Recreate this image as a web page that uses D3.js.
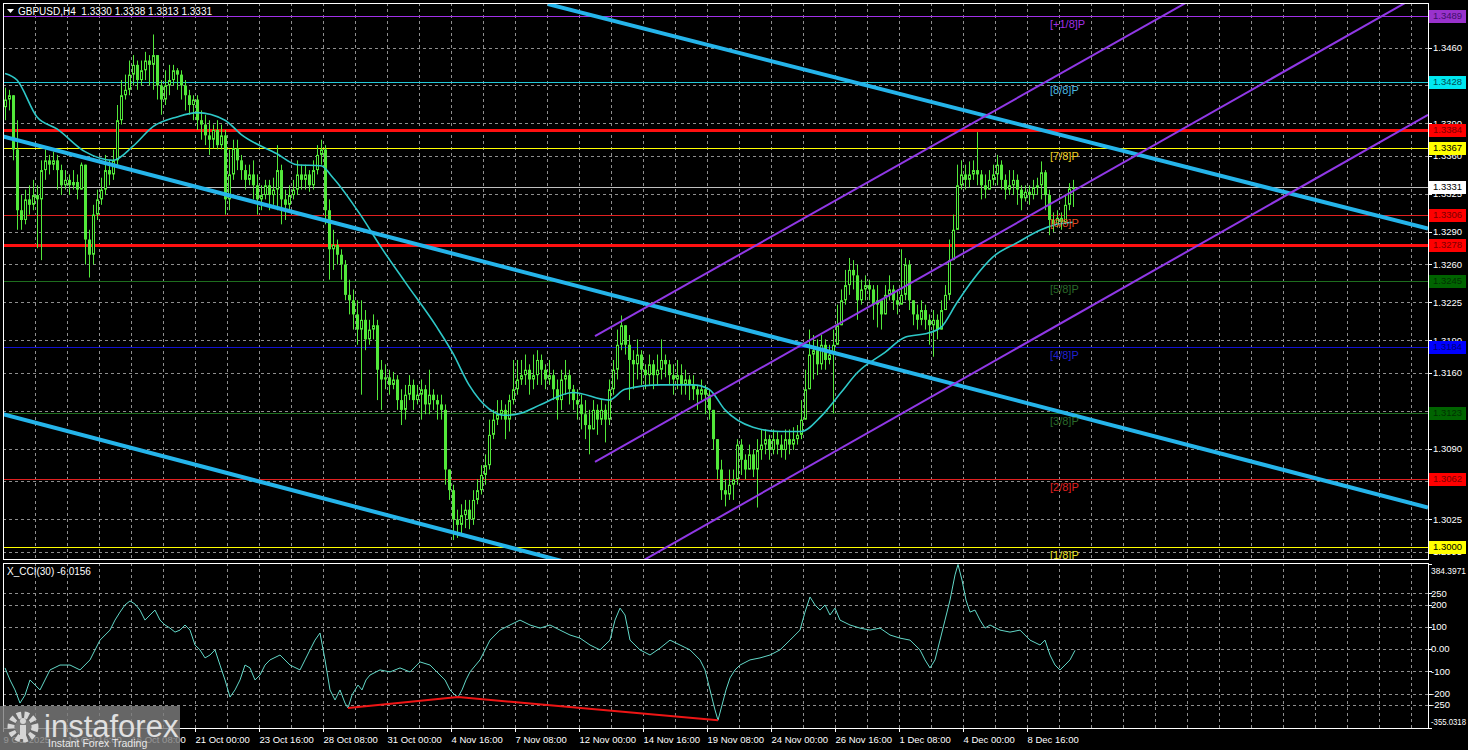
<!DOCTYPE html>
<html><head><meta charset="utf-8">
<script src="https://cdn.jsdelivr.net/npm/d3@7"></script>
<style>body{margin:0;background:#000;overflow:hidden}svg{display:block;font-family:"Liberation Sans",Arial,sans-serif}</style>
</head><body><svg id="c" width="1468" height="750"></svg>
<script>
// ---------------- DATA ----------------
const symbolTitle = "GBPUSD,H4  1.3330 1.3338 1.3313 1.3331";
const cciTitle = "X_CCI(30) -6.0156";
const firstOpen = 1.3405;
const closes = [
1.3412,1.3416,1.3366,1.3310,1.3301,1.3320,1.3315,1.3324,1.3320,1.3347,
1.3356,1.3352,1.3356,1.3347,1.3333,1.3338,1.3333,1.3336,1.3329,1.3352,
1.3283,1.3269,1.3306,1.3320,1.3329,1.3347,1.3343,1.3356,1.3393,1.3416,
1.3421,1.3435,1.3444,1.3430,1.3439,1.3448,1.3444,1.3453,1.3425,1.3412,
1.3425,1.3430,1.3439,1.3435,1.3425,1.3416,1.3407,1.3412,1.3393,1.3389,
1.3379,1.3375,1.3384,1.3370,1.3379,1.3320,1.3343,1.3367,1.3356,1.3347,
1.3338,1.3343,1.3333,1.3320,1.3324,1.3333,1.3324,1.3329,1.3347,1.3320,
1.3315,1.3324,1.3329,1.3343,1.3338,1.3343,1.3333,1.3347,1.3361,1.3366,
1.3310,1.3274,1.3278,1.3269,1.3260,1.3232,1.3227,1.3214,1.3200,1.3209,
1.3191,1.3200,1.3204,1.3163,1.3154,1.3156,1.3149,1.3154,1.3135,1.3126,
1.3140,1.3149,1.3135,1.3140,1.3145,1.3131,1.3140,1.3135,1.3131,1.3126,
1.3071,1.3052,1.3025,1.3020,1.3029,1.3034,1.3025,1.3043,1.3052,1.3066,
1.3075,1.3103,1.3117,1.3122,1.3126,1.3117,1.3135,1.3145,1.3154,1.3158,
1.3163,1.3154,1.3158,1.3172,1.3163,1.3154,1.3158,1.3145,1.3135,1.3154,
1.3158,1.3145,1.3135,1.3131,1.3122,1.3112,1.3108,1.3126,1.3117,1.3126,
1.3117,1.3145,1.3163,1.3186,1.3204,1.3186,1.3172,1.3168,1.3177,1.3163,
1.3158,1.3168,1.3158,1.3163,1.3172,1.3168,1.3158,1.3154,1.3158,1.3149,
1.3154,1.3149,1.3145,1.3140,1.3145,1.3140,1.3126,1.3099,1.3071,1.3052,
1.3048,1.3057,1.3062,1.3094,1.3080,1.3071,1.3085,1.3071,1.3089,1.3094,
1.3099,1.3089,1.3099,1.3094,1.3089,1.3099,1.3094,1.3099,1.3103,1.3117,
1.3145,1.3177,1.3181,1.3168,1.3186,1.3172,1.3177,1.3186,1.3204,1.3227,
1.3241,1.3255,1.3250,1.3227,1.3237,1.3241,1.3237,1.3223,1.3227,1.3214,
1.3232,1.3237,1.3227,1.3223,1.3232,1.3260,1.3227,1.3214,1.3209,1.3218,
1.3209,1.3204,1.3209,1.3200,1.3218,1.3232,1.3264,1.3292,1.3333,1.3343,
1.3338,1.3343,1.3347,1.3343,1.3333,1.3329,1.3338,1.3343,1.3352,1.3338,
1.3329,1.3333,1.3338,1.3329,1.3321,1.3327,1.3324,1.3331,1.3333,1.3345,
1.3324,1.3301,1.3297,1.3303,1.3299,1.3315,1.3330,1.3331];
const highs = [
1.3423,1.3421,1.3416,1.3393,1.3324,1.3329,1.3333,1.3338,1.3333,1.3356,
1.3366,1.3361,1.3364,1.3361,1.3352,1.3347,1.3343,1.3347,1.3343,1.3354,
1.3352,1.3292,1.3315,1.3329,1.3340,1.3361,1.3356,1.3366,1.3407,1.3430,
1.3435,1.3448,1.3453,1.3448,1.3448,1.3456,1.3453,1.3472,1.3453,1.3430,
1.3439,1.3444,1.3444,1.3441,1.3439,1.3430,1.3421,1.3416,1.3416,1.3402,
1.3398,1.3393,1.3389,1.3393,1.3389,1.3384,1.3366,1.3375,1.3375,1.3361,
1.3352,1.3352,1.3356,1.3343,1.3333,1.3338,1.3338,1.3340,1.3370,1.3352,
1.3329,1.3333,1.3338,1.3356,1.3352,1.3352,1.3347,1.3356,1.3370,1.3375,
1.3370,1.3320,1.3292,1.3283,1.3274,1.3264,1.3246,1.3237,1.3227,1.3227,
1.3218,1.3209,1.3214,1.3209,1.3172,1.3168,1.3163,1.3161,1.3158,1.3145,
1.3149,1.3158,1.3154,1.3149,1.3154,1.3149,1.3163,1.3145,1.3140,1.3140,
1.3131,1.3071,1.3057,1.3034,1.3039,1.3043,1.3043,1.3052,1.3062,1.3075,
1.3085,1.3117,1.3126,1.3135,1.3135,1.3131,1.3140,1.3172,1.3172,1.3172,
1.3177,1.3168,1.3177,1.3181,1.3177,1.3168,1.3172,1.3163,1.3154,1.3163,
1.3172,1.3163,1.3149,1.3145,1.3140,1.3135,1.3126,1.3135,1.3131,1.3135,
1.3131,1.3154,1.3172,1.3200,1.3213,1.3204,1.3195,1.3181,1.3191,1.3181,
1.3168,1.3177,1.3172,1.3177,1.3191,1.3177,1.3172,1.3168,1.3172,1.3168,
1.3163,1.3158,1.3158,1.3149,1.3154,1.3149,1.3145,1.3126,1.3099,1.3080,
1.3062,1.3071,1.3071,1.3099,1.3099,1.3085,1.3094,1.3089,1.3099,1.3108,
1.3108,1.3103,1.3108,1.3106,1.3103,1.3108,1.3108,1.3110,1.3112,1.3135,
1.3163,1.3200,1.3195,1.3191,1.3195,1.3191,1.3186,1.3200,1.3223,1.3237,
1.3255,1.3266,1.3264,1.3260,1.3246,1.3250,1.3246,1.3241,1.3241,1.3227,
1.3241,1.3250,1.3241,1.3237,1.3274,1.3266,1.3264,1.3227,1.3223,1.3227,
1.3223,1.3214,1.3218,1.3214,1.3227,1.3241,1.3283,1.3306,1.3352,1.3356,
1.3352,1.3355,1.3356,1.3382,1.3347,1.3343,1.3347,1.3352,1.3361,1.3356,
1.3343,1.3347,1.3347,1.3343,1.3333,1.3333,1.3333,1.3338,1.3340,1.3355,
1.3347,1.3329,1.3308,1.3310,1.3308,1.3324,1.3335,1.3338];
const lows = [
1.3393,1.3402,1.3356,1.3292,1.3292,1.3297,1.3306,1.3310,1.3275,1.3264,
1.3338,1.3343,1.3347,1.3329,1.3324,1.3329,1.3324,1.3329,1.3320,1.3329,
1.3260,1.3248,1.3260,1.3301,1.3315,1.3324,1.3333,1.3338,1.3352,1.3389,
1.3412,1.3416,1.3425,1.3421,1.3425,1.3430,1.3425,1.3421,1.3412,1.3398,
1.3407,1.3416,1.3425,1.3421,1.3412,1.3402,1.3398,1.3393,1.3384,1.3375,
1.3370,1.3361,1.3367,1.3366,1.3366,1.3306,1.3310,1.3338,1.3347,1.3338,
1.3329,1.3333,1.3320,1.3306,1.3310,1.3320,1.3310,1.3315,1.3310,1.3297,
1.3301,1.3310,1.3320,1.3324,1.3329,1.3329,1.3327,1.3329,1.3343,1.3352,
1.3297,1.3246,1.3255,1.3260,1.3246,1.3227,1.3214,1.3200,1.3186,1.3140,
1.3181,1.3186,1.3191,1.3135,1.3126,1.3145,1.3140,1.3145,1.3126,1.3112,
1.3117,1.3135,1.3126,1.3131,1.3117,1.3122,1.3122,1.3126,1.3117,1.3117,
1.3057,1.3043,1.3006,1.3008,1.3011,1.3017,1.3016,1.3020,1.3039,1.3048,
1.3057,1.3071,1.3099,1.3112,1.3117,1.3099,1.3106,1.3131,1.3140,1.3149,
1.3149,1.3140,1.3145,1.3149,1.3149,1.3145,1.3149,1.3135,1.3117,1.3126,
1.3140,1.3131,1.3126,1.3117,1.3108,1.3099,1.3085,1.3108,1.3103,1.3112,
1.3096,1.3112,1.3140,1.3154,1.3181,1.3177,1.3135,1.3145,1.3154,1.3149,
1.3145,1.3149,1.3145,1.3149,1.3154,1.3156,1.3149,1.3140,1.3145,1.3140,
1.3140,1.3135,1.3135,1.3126,1.3135,1.3122,1.3117,1.3089,1.3062,1.3043,
1.3037,1.3043,1.3043,1.3057,1.3066,1.3062,1.3071,1.3064,1.3036,1.3080,
1.3085,1.3080,1.3085,1.3085,1.3082,1.3080,1.3085,1.3089,1.3094,1.3099,
1.3126,1.3158,1.3154,1.3158,1.3163,1.3163,1.3168,1.3123,1.3186,1.3209,
1.3223,1.3232,1.3237,1.3209,1.3223,1.3227,1.3227,1.3209,1.3202,1.3200,
1.3218,1.3227,1.3218,1.3214,1.3223,1.3227,1.3218,1.3204,1.3200,1.3204,
1.3200,1.3186,1.3175,1.3191,1.3200,1.3218,1.3227,1.3274,1.3292,1.3329,
1.3329,1.3331,1.3338,1.3333,1.3320,1.3321,1.3329,1.3333,1.3333,1.3329,
1.3320,1.3324,1.3324,1.3315,1.3310,1.3318,1.3315,1.3320,1.3324,1.3320,
1.3310,1.3287,1.3290,1.3294,1.3292,1.3297,1.3310,1.3313];

// moving average, sampled (bar index, price)
const maBars = [0,3,8,13,20,27,32,37,43,48,55,59,68,73,79,82,89,94,100,108,112,116,121,125,129,134,142,151,155,164,172,176,180,187,194,199,204,209,213,220,225,231,234,238,242,247,253,259,263,267];
const maValues = [1.3436,1.3430,1.3396,1.3385,1.3364,1.3356,1.3369,1.3387,1.3396,1.3400,1.3393,1.3380,1.3362,1.3352,1.3351,1.3340,1.3305,1.3276,1.3244,1.3202,1.3178,1.3149,1.3127,1.3121,1.3123,1.3131,1.3142,1.3135,1.3145,1.3149,1.3149,1.3145,1.3126,1.3110,1.3106,1.3106,1.3120,1.3142,1.3160,1.3179,1.3193,1.3197,1.3202,1.3225,1.3246,1.3267,1.3280,1.3292,1.3297,1.3299];

// CCI(30) samples (bar index, value)
const cciBars = [0,1.25,2.5,3.75,5,6.25,8.75,11.25,13.75,16.25,18.75,21.25,23.75,26.25,27.5,28.75,30,31.25,32.5,33.75,35,36.25,37.5,38.75,40,41.25,42.5,43.75,45,46.25,47.5,48.75,50,51.25,52.5,53.75,55,56.25,57.5,58.75,60,61.25,62.5,63.75,65,66.25,68.75,71.25,73.75,75,76.25,77.5,78.75,80,81.25,82.5,83.75,85,85.75,86.75,88.25,89.25,90.25,91.25,93.75,96.25,98.75,101.25,103.75,106.25,108.75,110,111.25,112.5,113.25,114.25,115.25,116.25,118.75,121.25,123.75,126.25,128.75,131.25,133.75,136.25,138.75,141.25,143.75,146.25,148.75,151.25,152.5,153.75,155,156.25,158.75,161.25,163.75,166.25,168.75,171.25,173.75,175,176.25,177.5,178.25,179.25,180.25,181.25,182.5,183.75,186.25,188.75,191.25,193.75,196.25,198.75,200,201.25,202.5,203.75,205,206.25,207.5,208.75,211.25,213.75,216.25,218.75,221.25,223.75,226.25,228.75,230,231.25,232.5,233.75,235,236.25,237.5,238.25,239.25,240.25,241.25,242.5,243.75,245,246.25,248.75,251.25,253.75,256.25,258.75,260,261.25,262.5,263.75,265,266.25,267.5];
const cciValues = [-85,-139,-184,-243,-207,-139,-184,-94,-72,-72,-94,-49,40,85,130,166,198,216,202,175,130,153,175,130,108,94,76,85,108,85,18,-4,-40,-27,-4,-72,-139,-216,-184,-139,-72,-85,-139,-117,-72,-49,-27,-72,-94,-49,-4,40,72,-49,-184,-229,-184,-243,-265,-207,-162,-184,-139,-117,-94,-103,-85,-103,-58,-72,-117,-139,-184,-207,-216,-184,-139,-103,-49,40,85,108,130,108,94,108,85,63,49,18,-4,40,130,184,153,40,-4,-27,4,40,18,-4,-49,-94,-184,-274,-320,-252,-184,-130,-94,-72,-49,-40,-27,-4,40,85,166,234,198,175,198,153,184,130,108,94,85,94,63,49,40,-4,-49,-85,-49,40,130,220,333,380,310,220,166,175,130,94,108,85,76,85,40,18,40,-27,-72,-94,-72,-49,-6];
const divBars = [85.75,113.25,178.25];
const divValues = [-265,-216,-320];

// horizontal levels
const levelValues = [1.3489,1.3428,1.3384,1.3367,1.3331,1.3306,1.3278,1.3245,1.3184,1.3123,1.3062,1.3000];
const levelNames  = ["[+1/8]P","[8/8]P","","[7/8]P","","[6/8]P","","[5/8]P","[4/8]P","[3/8]P","[2/8]P","[1/8]P"];

// trend channels: [bar, price] endpoints
const blueChannel = [[[135.75,1.3500],[355.75,1.3293]],[[-0.5,1.3378],[355.75,1.3036]],[[-0.5,1.3122],[355.75,1.2777]]];
const purpleChannel = [[[147.5,1.3194],[355.75,1.3627]],[[147.5,1.3078],[355.75,1.3513]],[[147.5,1.2962],[355.75,1.3398]]];

// axes
const priceTicks = [1.3460,1.3425,1.3390,1.3360,1.3325,1.3290,1.3260,1.3225,1.3190,1.3160,1.3125,1.3090,1.3060,1.3025,1.2995];
const cciGridTicks = [250,200,100,0,-100,-200,-250];
const cciAxisValues = [384.3971,250,200,100,0,-100,-200,-250,-355.0318];
const cciAxisLabels = ["384.3971","250","200","100","0.00","-100","-200","-250","-355.0318"];
const timeLabelBars = [0,16,32,48,64,80,96,112,128,144,160,176,192,208,224,240,256];
const timeLabels = ["9 Oct 2025","13 Oct 16:00","16 Oct 08:00","21 Oct 00:00","23 Oct 16:00","28 Oct 08:00","31 Oct 00:00","4 Nov 16:00","7 Nov 08:00","12 Nov 00:00","14 Nov 16:00","19 Nov 08:00","24 Nov 00:00","26 Nov 16:00","1 Dec 08:00","4 Dec 00:00","8 Dec 16:00"];

// ---------------- STYLES ----------------
const levelColors = ["#a030e8","#22c8d8","#ff1010","#ffff00","#c0c0c0","#e02020","#ff1010","#1e6e1e","#1010d0","#1e6e1e","#e02020","#ffff00"];
const levelWidths = [1,1,3,1,1,1,3,1,1,1,1,1];
const nameColors  = ["#a030e8","#4ab8e0","","#f0d020","","#e04a20","","#2a6a2a","#2020d0","#2a6a2a","#e02020","#e8e020"];
const boxFill = ["#9932cc","#00e8f0","#ff0000","#ffff00","#ffffff","#ff0000","#ff0000","#006400","#0000ff","#006400","#ff0000","#ffff00"];
const boxText = ["#40106a","#004a50","#7a0000","#000000","#000000","#7a0000","#7a0000","#003000","#000070","#003000","#7a0000","#000000"];

// ---------------- DRAW ----------------
const L=3,R=1428,MT=3,MB=559,CT=563,CB=728;
const AX=9.5;
const svg=d3.select("#c");
svg.append("rect").attr("width",1468).attr("height",750).attr("fill","#000");
const x=d3.scaleLinear().domain([-0.5,355.75]).range([L,R]);
const y=d3.scaleLinear().domain([1.3460,1.2995]).range([47.5,552]);
const yc=d3.scaleLinear().domain([-355.0318,384.3971]).range([728,563.5]);

const defs=svg.append("defs");
defs.append("clipPath").attr("id","mclip").append("rect").attr("x",L).attr("y",MT).attr("width",R-L).attr("height",MB-MT);
defs.append("clipPath").attr("id","cclip").append("rect").attr("x",L).attr("y",CT).attr("width",R-L).attr("height",CB-CT);

const gridColor="#8e8e8e";
const vBars=d3.range(8,356,8);
// main panel
const gm=svg.append("g").attr("clip-path","url(#mclip)");
gm.selectAll(".vg").data(vBars).join("line").attr("x1",d=>x(d)-2+0.5).attr("x2",d=>x(d)-2+0.5).attr("y1",MT).attr("y2",MB)
  .attr("stroke",gridColor).attr("stroke-dasharray","3,3");
gm.selectAll(".hg").data(priceTicks).join("line").attr("x1",L).attr("x2",R).attr("y1",d=>Math.round(y(d))+0.5).attr("y2",d=>Math.round(y(d))+0.5)
  .attr("stroke",gridColor).attr("stroke-dasharray","3,3");

// level lines
gm.selectAll(".lv").data(levelValues).join("line").attr("x1",L).attr("x2",R)
  .attr("y1",d=>Math.round(y(d))+0.5).attr("y2",d=>Math.round(y(d))+0.5)
  .attr("stroke",(d,i)=>levelColors[i]).attr("stroke-width",(d,i)=>levelWidths[i]);

// candles
const green="#52e83a";
const opens=closes.map((c,i)=>i===0?firstOpen:closes[i-1]);
const cg=gm.append("g");
closes.forEach((c,i)=>{
  const o=opens[i];
  const hi=Math.max(highs[i],o,c), lo=Math.min(lows[i],o,c);
  const xc=Math.round(x(i));
  cg.append("line").attr("x1",xc+0.5).attr("x2",xc+0.5).attr("y1",y(hi)).attr("y2",y(lo)).attr("stroke",green).attr("stroke-width",1);
  const top=y(Math.max(o,c)), h=Math.abs(y(o)-y(c));
  if(c>=o){
    cg.append("rect").attr("x",xc-0.5).attr("y",top+0.5).attr("width",2).attr("height",Math.max(0.5,h-1))
      .attr("fill","#000").attr("stroke",green).attr("stroke-width",1);
  } else {
    cg.append("rect").attr("x",xc-1).attr("y",top).attr("width",3).attr("height",Math.max(1,h)).attr("fill",green);
  }
});

// moving average
gm.append("path").datum(maBars.map((b,i)=>[b,maValues[i]]))
  .attr("d",d3.line().x(d=>x(d[0])).y(d=>y(d[1])).curve(d3.curveMonotoneX))
  .attr("fill","none").attr("stroke","#2ec8c8").attr("stroke-width",1.6);

// channels
const seg=d3.line().x(d=>x(d[0])).y(d=>y(d[1]));
gm.selectAll(".bc").data(blueChannel).join("path").attr("d",seg).attr("stroke","#25b4ea").attr("stroke-width",4).attr("fill","none");
gm.selectAll(".pc").data(purpleChannel).join("path").attr("d",seg).attr("stroke","#9038e6").attr("stroke-width",2).attr("fill","none");

// level names
levelValues.forEach((v,i)=>{
  if(levelNames[i]==="") return;
  gm.append("text").attr("x",1050).attr("y",y(v)+12).attr("font-size",11).attr("fill",nameColors[i]).text(levelNames[i]);
});

// header
svg.append("path").attr("d","M7,9 L14,9 L10.5,13 Z").attr("fill","#fff");
svg.append("text").attr("x",18).attr("y",15).attr("font-size",10).attr("fill","#fff").attr("xml:space","preserve").text(symbolTitle);

// CCI panel
const gc=svg.append("g").attr("clip-path","url(#cclip)");
gc.selectAll(".vg").data(vBars).join("line").attr("x1",d=>x(d)-2+0.5).attr("x2",d=>x(d)-2+0.5).attr("y1",CT).attr("y2",CB)
  .attr("stroke",gridColor).attr("stroke-dasharray","3,3");
gc.selectAll(".hg").data(cciGridTicks).join("line").attr("x1",L).attr("x2",R).attr("y1",d=>Math.round(yc(d))+0.5).attr("y2",d=>Math.round(yc(d))+0.5)
  .attr("stroke",gridColor).attr("stroke-dasharray","3,3");
gc.append("path").datum(cciBars.map((b,i)=>[b,cciValues[i]]))
  .attr("d",d3.line().x(d=>x(d[0])).y(d=>yc(d[1])))
  .attr("fill","none").attr("stroke","#62d8c8").attr("stroke-width",1);
gc.append("path").datum(divBars.map((b,i)=>[b,divValues[i]]))
  .attr("d",d3.line().x(d=>x(d[0])).y(d=>yc(d[1])))
  .attr("fill","none").attr("stroke","#ee1515").attr("stroke-width",2);
svg.append("text").attr("x",7).attr("y",575).attr("font-size",10).attr("fill","#fff").text(cciTitle);

// frames
svg.append("rect").attr("x",L+0.5).attr("y",MT+0.5).attr("width",R-L).attr("height",MB-MT).attr("fill","none").attr("stroke","#fff");
svg.append("rect").attr("x",L+0.5).attr("y",CT+0.5).attr("width",R-L).attr("height",CB-CT).attr("fill","none").attr("stroke","#fff");

// price axis
const pa=svg.append("g");
pa.selectAll("line").data(priceTicks).join("line").attr("x1",R).attr("x2",R+4).attr("y1",d=>Math.round(y(d))+0.5).attr("y2",d=>Math.round(y(d))+0.5).attr("stroke","#fff");
pa.selectAll("text").data(priceTicks).join("text").attr("x",1433).attr("y",d=>y(d)).attr("dy","0.35em")
  .attr("font-size",AX).attr("fill","#fff").text(d=>d.toFixed(4));
// level boxes
const bx=svg.append("g");
levelValues.forEach((v,i)=>{
  const yy=Math.round(y(v));
  bx.append("rect").attr("x",1429).attr("y",yy-6).attr("width",37).attr("height",13).attr("fill",boxFill[i]);
  bx.append("text").attr("x",1433).attr("y",yy).attr("dy","0.36em").attr("font-size",AX).attr("fill",boxText[i]).text(v.toFixed(4));
});

// cci axis
const ca=svg.append("g");
cciAxisValues.forEach((v,i)=>{
  let yy=yc(v);
  if(i===0) yy+=7; if(i===cciAxisValues.length-1) yy-=6;
  ca.append("line").attr("x1",R).attr("x2",R+4).attr("y1",Math.round(yc(v))+0.5).attr("y2",Math.round(yc(v))+0.5).attr("stroke","#fff");
  const t=ca.append("text").attr("x",1431).attr("y",yy).attr("dy","0.35em").attr("font-size",AX).attr("fill","#fff").text(cciAxisLabels[i]);
  if(cciAxisLabels[i].length>6) t.attr("textLength",35).attr("lengthAdjust","spacingAndGlyphs");
});

// time axis
const ta=svg.append("g");
timeLabelBars.forEach((b,i)=>{
  const xx=Math.round(x(b)-2)+0.5;
  ta.append("line").attr("x1",xx).attr("x2",xx).attr("y1",CB).attr("y2",CB+4).attr("stroke","#fff");
  ta.append("text").attr("x",xx).attr("y",743).attr("font-size",AX).attr("fill","#fff").text(timeLabels[i]);
});

// logo (semi-transparent watermark over the first labels, as in the source)
const lg=svg.append("g");
lg.append("rect").attr("x",0).attr("y",706).attr("width",180).attr("height",44).attr("fill","#7c7c7c").attr("opacity",0.82);
lg.append("circle").attr("cx",23).attr("cy",727).attr("r",12).attr("fill","none").attr("stroke","#d6d6d6").attr("stroke-width",7).attr("stroke-dasharray","4.2,3");
lg.append("circle").attr("cx",23).attr("cy",727).attr("r",8).attr("fill","#7c7c7c");
lg.append("circle").attr("cx",23).attr("cy",721).attr("r",3).attr("fill","#d6d6d6");
lg.append("rect").attr("x",20).attr("y",725).attr("width",6).attr("height",14).attr("fill","#d6d6d6");
lg.append("text").attr("x",44).attr("y",737).attr("font-size",31).attr("fill","#e0e0e0").text("instaforex");
lg.append("text").attr("x",48).attr("y",747).attr("font-size",10.5).attr("fill","#e8e8e8").text("Instant Forex Trading");
</script></body></html>
